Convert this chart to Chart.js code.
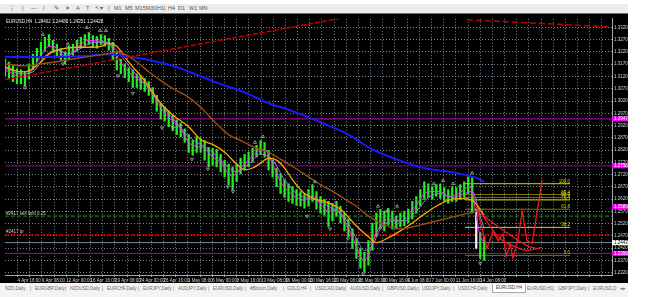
<!DOCTYPE html>
<html>
<head>
<meta charset="utf-8">
<script src="https://cdn.jsdelivr.net/npm/chart.js@4.4.1/dist/chart.umd.min.js"></script>
<style>
body { margin:0; width:645px; height:297px; background:#fff; overflow:hidden; position:relative; font-family:"Liberation Sans", Arial, sans-serif; }
#tools { position:absolute; left:0; top:4px; width:628px; height:9px; background:#ececec; border-bottom:1px solid #6e6e6e; }
#tools span { position:absolute; top:1px; font-size:5.5px; line-height:7px; color:#555; }
#wrap { position:absolute; left:0; top:14px; width:628px; height:269px; background:#000; }
#tabs { position:absolute; left:0; top:283px; width:628px; height:14px; background:#f3f3f3; }
#tabs span { position:absolute; top:3px; font-size:4.5px; line-height:6px; color:#6a6a6a; white-space:nowrap; }
#tabs span.on { top:1px; padding:1px 3px; background:#fff; border:1px solid #aaa; border-top:none; color:#333; }
</style>
</head>
<body>
<div id="tools">
  <span style="left:9px">&#8942;</span><span style="left:22px">|</span><span style="left:31px">&#8212;</span>
  <span style="left:43px">/</span><span style="left:54px">&#9998;</span><span style="left:66px">#</span>
  <span style="left:76px">A</span><span style="left:86px">T</span><span style="left:95px">&#8598;&#9662;</span>
  <span style="left:108px">|</span><span style="left:114px">M1</span><span style="left:125px">M5</span>
  <span style="left:135px">M15</span><span style="left:146px">M30</span><span style="left:157px">H1</span>
  <span style="left:164px">|</span><span style="left:168px">H4</span><span style="left:178px">D1</span>
  <span style="left:189px">W1</span><span style="left:199px">MN</span>
</div>
<div id="wrap"><canvas id="chart" width="628" height="269"></canvas></div>
<div id="tabs">
  <span style="left:5px">NZD,Daily</span><span style="left:30px">|</span>
  <span style="left:35px">EURGBP,Daily</span><span style="left:65px">|</span>
  <span style="left:70px">NZDUSD,Daily</span><span style="left:102px">|</span>
  <span style="left:107px">EURCHF,Daily</span><span style="left:138px">|</span>
  <span style="left:143px">EURJPY,Daily</span><span style="left:173px">|</span>
  <span style="left:178px">AUDJPY,Daily</span><span style="left:208px">|</span>
  <span style="left:213px">EURUSD,Daily</span><span style="left:245px">|</span>
  <span style="left:250px">#Bitcoin,Daily</span><span style="left:283px">|</span>
  <span style="left:287px">GOLD,H4</span><span style="left:310px">|</span>
  <span style="left:315px">USDCAD,Daily</span><span style="left:345px">|</span>
  <span style="left:350px">AUDUSD,Daily</span><span style="left:382px">|</span>
  <span style="left:387px">GBPUSD,Daily</span><span style="left:418px">|</span>
  <span style="left:422px">USDJPY,Daily</span><span style="left:453px">|</span>
  <span style="left:458px">USDCHF,Daily</span>
  <span class="on" style="left:492px">EURUSD,H4</span>
  <span style="left:527px">EURUSD,H1</span><span style="left:553px">|</span>
  <span style="left:558px">GBPJPY,Daily</span><span style="left:588px">|</span>
  <span style="left:593px">EURUSD,D</span><span style="left:620px">&#9666;&#9656;</span>
</div>
<script>
// EURUSD H4 bars (one bar per slot)
const barHigh = [
  1.3191, 1.3179, 1.3163, 1.3151, 1.3147, 1.3139, 1.3171, 1.3211, 1.3235, 1.3259,
  1.3279, 1.3291, 1.3267, 1.3251, 1.3235, 1.3219, 1.3243, 1.3251, 1.3267, 1.3279,
  1.3291, 1.3299, 1.3287, 1.3283, 1.3291, 1.3287, 1.3275, 1.3259, 1.3219, 1.3191,
  1.3171, 1.3155, 1.3147, 1.3131, 1.3123, 1.3111, 1.3099, 1.3075, 1.3043, 1.3011,
  1.2995, 1.2979, 1.2963, 1.2943, 1.2931, 1.2907, 1.2883, 1.2859, 1.2875, 1.2867,
  1.2859, 1.2831, 1.2827, 1.2823, 1.2803, 1.2779, 1.2763, 1.2751, 1.2763, 1.2787,
  1.2803, 1.2811, 1.2827, 1.2839, 1.2859, 1.2851, 1.2819, 1.2779, 1.2747, 1.2723,
  1.2699, 1.2683, 1.2671, 1.2659, 1.2651, 1.2643, 1.2659, 1.2679, 1.2651, 1.2631,
  1.2619, 1.2611, 1.2603, 1.2611, 1.2591, 1.2563, 1.2539, 1.2499, 1.2459, 1.2419,
  1.2403, 1.2451, 1.2523, 1.2563, 1.2579, 1.2571, 1.2583, 1.2571, 1.2551, 1.2563,
  1.2571, 1.2579, 1.2611, 1.2631, 1.2659, 1.2691, 1.2683, 1.2671, 1.2679, 1.2683,
  1.2667, 1.2659, 1.2671, 1.2667, 1.2679, 1.2691, 1.2711, 1.2707, 1.2579, 1.2483,
  1.2467
];
const barLow = [
  1.3123, 1.3111, 1.3099, 1.3091, 1.3091, 1.3083, 1.3111, 1.3147, 1.3179, 1.3203,
  1.3223, 1.3243, 1.3219, 1.3203, 1.3187, 1.3171, 1.3191, 1.3203, 1.3223, 1.3235,
  1.3243, 1.3251, 1.3239, 1.3235, 1.3251, 1.3243, 1.3227, 1.3187, 1.3147, 1.3131,
  1.3115, 1.3099, 1.3075, 1.3075, 1.3067, 1.3059, 1.3043, 1.3011, 1.2979, 1.2947,
  1.2939, 1.2915, 1.2899, 1.2883, 1.2875, 1.2851, 1.2811, 1.2799, 1.2811, 1.2811,
  1.2779, 1.2751, 1.2759, 1.2751, 1.2731, 1.2711, 1.2679, 1.2659, 1.2691, 1.2723,
  1.2739, 1.2751, 1.2771, 1.2791, 1.2803, 1.2791, 1.2739, 1.2711, 1.2671, 1.2643,
  1.2627, 1.2611, 1.2603, 1.2595, 1.2591, 1.2583, 1.2591, 1.2611, 1.2579, 1.2563,
  1.2555, 1.2507, 1.2531, 1.2551, 1.2523, 1.2491, 1.2467, 1.2419, 1.2379, 1.2339,
  1.2323, 1.2351, 1.2411, 1.2467, 1.2499, 1.2491, 1.2515, 1.2499, 1.2499, 1.2507,
  1.2511, 1.2523, 1.2539, 1.2563, 1.2591, 1.2619, 1.2627, 1.2619, 1.2631, 1.2623,
  1.2611, 1.2603, 1.2611, 1.2611, 1.2619, 1.2627, 1.2643, 1.2563, 1.2419, 1.2379,
  1.2371
];

// moving averages, [bar, price]
const maBlue = [[0,1.3199],[10,1.3199],[20,1.3203],[26,1.3211],[30,1.3203],[36,1.3187],[42,1.3163],
  [48,1.3127],[53,1.3095],[60,1.3055],[66,1.3011],[72,1.2979],[80,1.2927],[86,1.2883],[92,1.2823],
  [100,1.2771],[106,1.2743],[110,1.2735],[114,1.2723],[118,1.2707],[120,1.2691]];
const maOrange = [[0,1.3159],[4,1.3139],[6,1.3143],[9,1.3179],[11,1.3211],[14,1.3231],[18,1.3239],
  [21,1.3239],[24,1.3243],[26,1.3255],[28,1.3243],[30,1.3199],[32,1.3159],[34,1.3123],[36,1.3079],
  [39,1.3011],[42,1.2963],[46,1.2915],[49,1.2863],[52,1.2843],[55,1.2811],[58,1.2763],[60,1.2739],
  [62,1.2747],[64,1.2767],[66,1.2787],[68,1.2779],[70,1.2747],[72,1.2699],[75,1.2643],[78,1.2619],
  [80,1.2611],[84,1.2579],[88,1.2511],[91,1.2467],[93,1.2443],[96,1.2463],[99,1.2491],[102,1.2523],
  [105,1.2559],[108,1.2591],[111,1.2615],[114,1.2623],[117,1.2615],[120,1.2555]];
const maBrown = [[0,1.3171],[5,1.3163],[9,1.3171],[14,1.3183],[20,1.3199],[25,1.3211],[28,1.3219],
  [30,1.3211],[33,1.3179],[36,1.3139],[39,1.3103],[42,1.3071],[46,1.3035],[49,1.2995],[52,1.2943],
  [56,1.2883],[59,1.2859],[63,1.2827],[66,1.2811],[69,1.2783],[73,1.2743],[76,1.2711],[79,1.2679],
  [83,1.2643],[86,1.2611],[88,1.2591],[91,1.2551],[95,1.2515],[99,1.2499],[102,1.2507],[106,1.2523],
  [112,1.2547],[117,1.2567],[120,1.2579]];
const maMagenta = [[0,1.3147],[3,1.3123],[5,1.3119],[7,1.3151],[9,1.3203],[11,1.3243],[13,1.3235],
  [15,1.3203],[17,1.3219],[19,1.3251],[21,1.3267],[24,1.3263],[26,1.3255],[28,1.3203],[30,1.3155],
  [33,1.3111],[36,1.3075],[38,1.3019],[40,1.2971],[42,1.2939],[44,1.2907],[46,1.2851],[48,1.2835],
  [50,1.2827],[52,1.2791],[54,1.2771],[56,1.2723],[57,1.2715],[59,1.2747],[61,1.2779],[63,1.2811],
  [65,1.2823],[67,1.2763],[69,1.2691],[71,1.2651],[73,1.2627],[75,1.2615],[77,1.2635],[79,1.2599],
  [81,1.2571],[83,1.2579],[85,1.2531],[87,1.2467],[89,1.2387],[90,1.2371],[91,1.2391],[93,1.2483],
  [95,1.2531],[97,1.2539],[99,1.2531],[101,1.2551],[103,1.2595],[105,1.2643],[107,1.2651],[109,1.2651],
  [111,1.2631],[113,1.2639],[115,1.2659],[116,1.2671],[117,1.2651],[118,1.2551],[119,1.2471],[120,1.2443]];
const maPurple = [[0,1.3155],[4,1.3131],[7,1.3139],[10,1.3203],[13,1.3227],[16,1.3211],[19,1.3235],
  [22,1.3259],[25,1.3259],[28,1.3227],[31,1.3163],[34,1.3107],[37,1.3051],[40,1.2987],[43,1.2931],
  [46,1.2875],[49,1.2843],[52,1.2811],[55,1.2763],[58,1.2731],[61,1.2763],[64,1.2803],[67,1.2779],
  [70,1.2699],[73,1.2643],[76,1.2623],[79,1.2611],[82,1.2579],[85,1.2547],[88,1.2459],[90,1.2411],
  [92,1.2431],[94,1.2499],[97,1.2531],[100,1.2531],[103,1.2571],[106,1.2627],[109,1.2643],[112,1.2627],
  [115,1.2643],[117,1.2651],[119,1.2551],[120,1.2499]];

// fractal arrows
const fracUp = [[9.5,1.3291],[15.8,1.3251],[20.5,1.3319],[23.8,1.3307],[25.3,1.3307],[62.6,1.2851],
  [64.6,1.2875],[77.6,1.2691],[93.4,1.2591],[95.7,1.2571],[98.2,1.2591],[107.4,1.2683],[109.7,1.2695],
  [112.2,1.2683],[117,1.2727]];
const fracDown = [[5,1.3075],[14.5,1.3171],[28.3,1.3123],[32,1.3051],[39.3,1.2911],[42.1,1.2911],
  [46.8,1.2783],[50.8,1.2743],[55.8,1.2671],[57.1,1.2651],[75.6,1.2551],[81.4,1.2499],[85.9,1.2459],
  [89.7,1.2315],[119,1.2359]];

// drawn objects
const trendA = [[0,1.3107],[85,1.3360]];
const trendB = [[115.7,1.3351],[151.5,1.3322]];
const zigzag = [[118,1.2591],[119.5,1.2499],[120.7,1.2419],[122.2,1.2491],[123.5,1.2451],[124.7,1.2479],
  [125.5,1.2387],[126.5,1.2439],[127.2,1.2379],[128.5,1.2459],[129.5,1.2571],[130.7,1.2451],[132,1.2439],
  [134.5,1.2699]];
const curveA = [[119,1.2564],[122.2,1.2523],[125.6,1.2484],[130.7,1.2431],[133.2,1.2418]];
const curveB = [[119.7,1.2551],[124,1.2459],[128.1,1.2424],[130.7,1.2411],[134.4,1.2424]];
const fibLevels = [1.2683, 1.2639, 1.2627, 1.2617, 1.2579, 1.2505, 1.2391];
const fibNames = ['100.0', '85.4', '80.9', '76.4', '61.8', '38.2', '0.0'];
const fibFrom = 115.2, fibTo = 141.5;

const magentaLevels = [1.2947, 1.2399];
const purpleLevel = 1.2756;
const sellLimit = 1.2551;
const takeProfit = 1.2475;
const bidPrice = 1.2443;
const markPrices = [1.2947, 1.2756, 1.2589, 1.2399];

const yTicks = [1.3320, 1.3270, 1.3220, 1.3170, 1.3120, 1.3070, 1.3020, 1.2970, 1.2920, 1.2870, 1.2820,
  1.2770, 1.2720, 1.2670, 1.2620, 1.2570, 1.2520, 1.2470, 1.2420, 1.2370, 1.2320];
const timeLabels = ['4 Apr 16:00', '9 Apr 08:00', '12 Apr 00:00', '16 Apr 16:00', '19 Apr 08:00',
  '24 Apr 00:00', '26 Apr 16:00', '1 May 08:00', '6 May 00:00', '8 May 16:00', '13 May 08:00',
  '16 May 00:00', '20 May 16:00', '23 May 08:00', '28 May 00:00', '30 May 16:00', '4 Jun 08:00',
  '7 Jun 00:00', '11 Jun 16:00', '14 Jun 08:00'];
const headerText = 'EURUSD,H4  1.24402 1.24480 1.24351 1.24428';

const X_MAX = 152;
const FONT = '"Liberation Sans", Arial, sans-serif';

// grid every ~3 bars, time label on every second line
const xTickPos = [];
for (let k = 0; k <= 48; k++) xTickPos.push(3.13 + k * 3.049);

const pts = arr => arr.map(p => ({ x: p[0], y: p[1] }));
const flat = (p, from, to) => [{ x: from, y: p }, { x: to, y: p }];

function hLine(p, color, width, dash) {
  return { type: 'line', data: flat(p, 0, X_MAX), borderColor: color, borderWidth: width,
    borderDash: dash || [], pointRadius: 0, order: 10 };
}
function maLine(arr, color, width) {
  return { type: 'line', data: pts(arr), borderColor: color, borderWidth: width,
    pointRadius: 0, tension: 0.4, cubicInterpolationMode: 'monotone', order: 2 };
}

const datasets = [];
magentaLevels.forEach((p, i) => datasets.push(hLine(p, i === 0 ? '#c400c4' : '#a800a8', 1)));
datasets.push(hLine(purpleLevel, '#4a0a4a', 2));
datasets.push(hLine(sellLimit, '#1c9a1c', 1, [4, 2]));
datasets.push(hLine(takeProfit, '#b40000', 1.5, [4, 2]));
datasets.push(hLine(bidPrice, '#7a8898', 1));

fibLevels.forEach((p, i) => datasets.push({
  type: 'line', data: flat(p, fibFrom, fibTo), borderWidth: 1, pointRadius: 0, order: 9,
  borderColor: [0, 3, 5].includes(i) ? '#d6d600' : '#7a7a00'
}));

datasets.push({
  type: 'bar',
  data: barLow.map((lo, i) => ({ x: i, y: [lo, barHigh[i]] })),
  backgroundColor: barLow.map((_, i) => i === 118 ? '#f2f2f2' : '#22ee22'),
  barThickness: 1.6, order: 5
});

datasets.push(maLine(maBrown, '#9a4e18', 1.4));
datasets.push(maLine(maBlue, '#1a1aff', 2));
datasets.push(maLine(maOrange, '#ffa500', 1.3));
datasets.push(maLine(maPurple, '#8f7fe0', 1));
datasets.push(maLine(maMagenta, '#ff30ff', 1));

datasets.push({ type: 'line', data: pts(trendA), borderColor: '#c00000', borderWidth: 1.5,
  borderDash: [5, 2], pointRadius: 0, order: 1 });
datasets.push({ type: 'line', data: pts(trendB), borderColor: '#c00000', borderWidth: 1.5,
  borderDash: [6, 3], pointRadius: 0, order: 1 });

[zigzag, curveA, curveB].forEach((arr, i) => datasets.push({
  type: 'line', data: pts(arr), borderColor: '#ee1c1c', borderWidth: 1.3, pointRadius: 0,
  tension: i === 0 ? 0 : 0.4, order: 0
}));

[fracUp, fracDown].forEach((arr, i) => datasets.push({
  type: 'line', data: pts(arr), showLine: false, pointStyle: 'triangle', pointRadius: 1.8,
  rotation: i === 0 ? 0 : 180, pointBackgroundColor: 'rgba(0,0,0,0)', pointBorderColor: '#a8a8a8',
  pointBorderWidth: 0.8, order: 0
}));

const overlay = {
  id: 'overlay',
  afterDatasetsDraw(chart) {
    const { ctx, chartArea: a, scales: { x, y } } = chart;
    ctx.save();
    ctx.font = '4.5px ' + FONT;
    ctx.textBaseline = 'alphabetic';
    ctx.fillStyle = '#ececec';
    ctx.fillText(headerText, a.left + 1, a.top + 4);
    ctx.fillStyle = '#d0d0d0';
    ctx.fillText('#2417 sell limit 0.25', a.left + 1, y.getPixelForValue(sellLimit) - 1.5);
    ctx.fillText('#2417 tp', a.left + 1, y.getPixelForValue(takeProfit) - 1.5);
    ctx.fillStyle = '#d6d600';
    ctx.textAlign = 'right';
    fibLevels.forEach((p, i) => ctx.fillText(fibNames[i], x.getPixelForValue(fibTo), y.getPixelForValue(p) - 1));
    ctx.restore();
  },
  afterDraw(chart) {
    const { ctx, chartArea: a, scales: { y } } = chart;
    ctx.save();
    ctx.font = '4.5px ' + FONT;
    ctx.textBaseline = 'middle';
    markPrices.forEach(p => {
      const py = y.getPixelForValue(p);
      ctx.fillStyle = '#ff00ff';
      ctx.fillRect(a.right, py - 2.5, 16, 5);
      ctx.fillStyle = '#fff';
      ctx.fillText(p.toFixed(4), a.right + 2, py);
    });
    const by = y.getPixelForValue(bidPrice);
    ctx.fillStyle = '#fff';
    ctx.fillRect(a.right, by - 2.5, 16, 5);
    ctx.fillStyle = '#000';
    ctx.fillText(bidPrice.toFixed(4), a.right + 2, by);
    ctx.restore();
  }
};

new Chart(document.getElementById('chart'), {
  type: 'bar',
  data: { datasets },
  options: {
    responsive: false,
    animation: false,
    devicePixelRatio: 1,
    events: [],
    layout: { padding: { left: 5, top: 0, right: 0, bottom: 0 } },
    plugins: { legend: { display: false }, tooltip: { enabled: false } },
    scales: {
      x: {
        type: 'linear', min: 0, max: X_MAX, offset: false,
        afterBuildTicks: ax => { ax.ticks = xTickPos.map(v => ({ value: v })); },
        afterFit: ax => { ax.height = 8; },
        ticks: {
          autoSkip: false, maxRotation: 0, align: 'start', padding: 1, color: '#d4d4d4',
          font: { size: 4.5, family: FONT },
          callback: (v, i) => (i % 2 === 0 && timeLabels[i / 2]) ? timeLabels[i / 2] : ''
        },
        grid: { color: '#7c8894', offset: false, tickLength: 2, tickColor: '#9aa4ae' },
        border: { display: true, color: '#a0a8b0', dash: [1, 2] }
      },
      y: {
        position: 'right', min: 1.2311, max: 1.3355,
        afterBuildTicks: ax => { ax.ticks = yTicks.map(v => ({ value: v })); },
        afterFit: ax => { ax.width = 16; },
        ticks: { padding: 2, color: '#d4d4d4', font: { size: 4.5, family: FONT },
          callback: v => v.toFixed(4) },
        grid: { color: '#7c8894', drawTicks: false },
        border: { display: true, color: '#a0a8b0', dash: [1, 2] }
      }
    }
  },
  plugins: [overlay]
});
</script>
</body>
</html>
